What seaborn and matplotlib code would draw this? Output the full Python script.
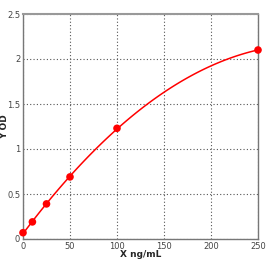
import matplotlib
matplotlib.use("Agg")
import matplotlib.pyplot as plt
import seaborn as sns
import pandas as pd

conc = [0, 10, 25, 50, 100, 250]
od = [0.07, 0.19, 0.39, 0.69, 1.23, 2.10]
x_ticks = [0, 50, 100, 150, 200, 250]
y_ticks = [0, 0.5, 1, 1.5, 2, 2.5]
y_tick_labels = ["0", "0.5", "1", "1.5", "2", "2.5"]

df = pd.DataFrame({"conc": conc, "od": od})

sns.set_style("white")
plt.rcParams["font.family"] = ["DejaVu Sans"]

fig = plt.figure(figsize=(2.78, 2.63), dpi=100)
ax = fig.add_axes([23/278, 24/263, 235/278, 225/263])

sns.regplot(data=df, x="conc", y="od", order=2, ci=None, scatter=False,
            truncate=True, color="#ff0000", line_kws={"lw": 1.1}, ax=ax)
sns.scatterplot(data=df, x="conc", y="od", color="#ff0000", s=30,
                edgecolor="none", ax=ax, zorder=5, clip_on=False)

ax.set_xlim(0, 250)
ax.set_ylim(0, 2.5)
ax.set_xticks(x_ticks)
ax.set_yticks(y_ticks)
ax.set_yticklabels(y_tick_labels)
ax.tick_params(axis="both", length=0, labelsize=6, colors="#444444", pad=2)
ax.grid(True, color="#555555", linestyle=(0, (1, 2)), linewidth=0.8)
for s in ax.spines.values():
    s.set_color("#777777")
    s.set_linewidth(1.0)
ax.spines["top"].set_linewidth(1.5)
ax.spines["top"].set_color("#999999")
ax.set_xlabel("X ng/mL", fontsize=6.5, fontweight="bold")
ax.set_ylabel("Y OD", fontsize=6.5, fontweight="bold")
ax.xaxis.set_label_coords(0.5, -0.05)
ax.yaxis.set_label_coords(-0.06, 0.5)

fig.savefig("out.png", dpi=100)
